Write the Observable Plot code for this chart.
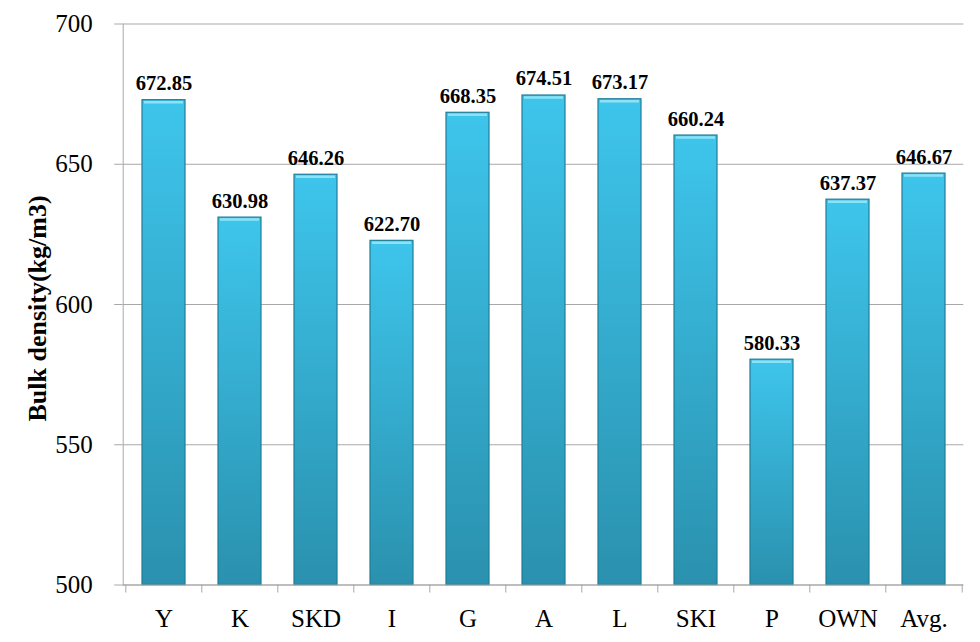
<!DOCTYPE html>
<html>
<head>
<meta charset="utf-8">
<script src="https://cdn.jsdelivr.net/npm/d3@7"></script>
<script src="https://cdn.jsdelivr.net/npm/@observablehq/plot@0.6"></script>
<style>
  html, body { margin: 0; padding: 0; background: #fff; }
  #chart { width: 980px; height: 642px; }
  #chart svg text { font-family: 'Liberation Serif', 'Times New Roman', serif; }
</style>
</head>
<body>
<div id="chart"></div>
<script>
const categories = ["Y", "K", "SKD", "I", "G", "A", "L", "SKI", "P", "OWN", "Avg."];
const values = [672.85, 630.98, 646.26, 622.70, 668.35, 674.51, 673.17, 660.24, 580.33, 637.37, 646.67];
const yTicks = [500, 550, 600, 650, 700];
const yTitle = "Bulk density(kg/m3)";

const data = categories.map((c, i) => ({cat: c, value: values[i]}));

const W = 980, H = 642;
const mL = 122.7, mR = 16.7, mT = 23.5, mB = 57.5;
const halfStep = (W - mL - mR) / categories.length / 2;
const font = "'Liberation Serif', 'Times New Roman', serif";

const chart = Plot.plot({
  width: W,
  height: H,
  marginLeft: mL,
  marginRight: mR,
  marginTop: mT,
  marginBottom: mB,
  style: {fontFamily: font, background: "#fff", overflow: "visible"},
  x: {domain: categories, paddingInner: 0.44, paddingOuter: 0.22, align: 0.5},
  y: {domain: [500, 700]},
  marks: [
    Plot.gridY(yTicks, {stroke: "#a8a8a8", strokeOpacity: 1, strokeWidth: 1}),
    Plot.axisY(yTicks, {tickSize: 8.5, tickPadding: 22, stroke: "#a8a8a8", fontSize: 25, fill: "#000", label: null, tickFormat: d => String(d)}),
    Plot.axisX({tickSize: 0, tickPadding: 24, fontSize: 25, fill: "#000", label: null}),
    Plot.axisX({tickSize: 8, dx: -halfStep, tickFormat: () => "", stroke: "#a8a8a8", label: null}),
    Plot.axisX([categories[categories.length - 1]], {tickSize: 8, dx: halfStep, tickFormat: () => "", stroke: "#a8a8a8", label: null}),
    Plot.barY(data, {x: "cat", y1: 500, y2: "value", fill: "url(#barGrad)", stroke: "#1f7d97", strokeWidth: 1.2}),
    Plot.tickY(data, {x: "cat", y: "value", stroke: "#8ee2f7", strokeWidth: 2.5, dy: 2, insetLeft: 2, insetRight: 2}),
    Plot.ruleY([500], {stroke: "#a8a8a8", strokeWidth: 1}),
    Plot.frame({anchor: "left", stroke: "#a8a8a8"}),
    Plot.text(data, {x: "cat", y: "value", text: d => d.value.toFixed(2), lineAnchor: "bottom", dy: -10, fontSize: 20.5, fontWeight: "bold", fill: "#000"}),
    Plot.text([yTitle], {frameAnchor: "left", text: d => d, rotate: -90, textAnchor: "middle", lineAnchor: "middle", dx: -86, dy: 4, fontSize: 26, fontWeight: "bold", fill: "#000"})
  ]
});

// gradient definition for the bars
const svg = d3.select(chart.tagName.toLowerCase() === "svg" ? chart : chart.querySelector("svg"));
const defs = svg.insert("defs", ":first-child");
const grad = defs.append("linearGradient").attr("id", "barGrad").attr("x1", 0).attr("y1", 0).attr("x2", 0).attr("y2", 1);
grad.append("stop").attr("offset", "0%").attr("stop-color", "#3ec5ec");
grad.append("stop").attr("offset", "100%").attr("stop-color", "#2a91ae");

document.getElementById("chart").appendChild(chart);
</script>
</body>
</html>
